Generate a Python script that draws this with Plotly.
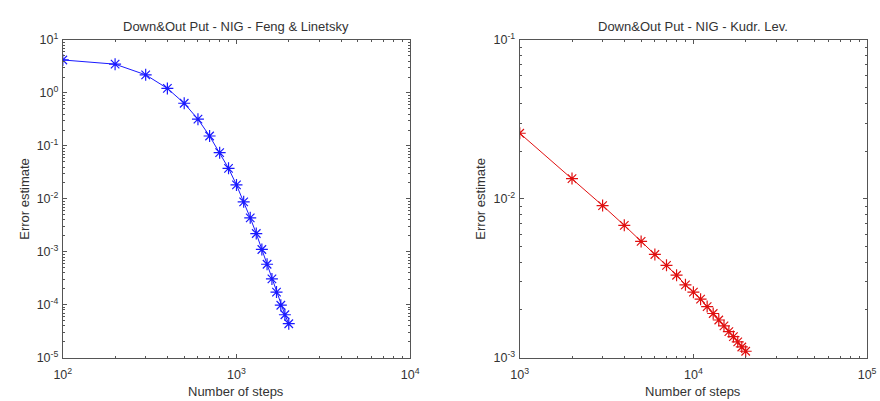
import plotly.graph_objects as go

# Feng & Linetsky convergence
steps_fl = [100, 200, 300, 400, 500, 600, 700, 800, 900, 1000,
            1100, 1200, 1300, 1400, 1500, 1600, 1700, 1800, 1900, 2000]
err_fl = [4.2, 3.5, 2.2, 1.22, 0.64, 0.32, 0.154, 0.0747, 0.0378, 0.0184,
          0.0088, 0.00439, 0.00222, 0.00111, 0.000584, 0.000309, 0.000174,
          9.84e-5, 6.5e-5, 4.4e-5]

# Kudryavtsev & Levendorskii convergence
steps_kl = [1000, 2000, 3000, 4000, 5000, 6000, 7000, 8000, 9000, 10000,
            11000, 12000, 13000, 14000, 15000, 16000, 17000, 18000, 19000, 20000]
err_kl = [0.0259, 0.01342, 0.00908, 0.00682, 0.0054, 0.00447, 0.00382,
          0.00331, 0.00288, 0.00259, 0.00234, 0.0021, 0.0019, 0.00173,
          0.00159, 0.00146, 0.00136, 0.00126, 0.00117, 0.0011]

titles = ["Down&Out Put - NIG - Feng & Linetsky", "Down&Out Put - NIG - Kudr. Lev."]
x_label = "Number of steps"
y_label = "Error estimate"

left_x_exp = [2, 3, 4]
left_y_exp = [-5, -4, -3, -2, -1, 0, 1]
right_x_exp = [3, 4, 5]
right_y_exp = [-3, -2, -1]

W, H = 880, 401
FONT = "Liberation Sans, Arial, sans-serif"
TXT = "#333333"
AXC = "#555555"

fig = go.Figure()
fig.add_trace(go.Scatter(x=steps_fl, y=err_fl, mode="lines+markers",
                         line=dict(color="#1a1aff", width=1),
                         marker=dict(symbol="asterisk-open", size=10,
                                     line=dict(color="#0000ff", width=1.2)),
                         xaxis="x", yaxis="y", showlegend=False))
fig.add_trace(go.Scatter(x=steps_kl, y=err_kl, mode="lines+markers",
                         line=dict(color="#e01010", width=1),
                         marker=dict(symbol="asterisk-open", size=10,
                                     line=dict(color="#e00000", width=1.2)),
                         xaxis="x2", yaxis="y2", showlegend=False))


def minor_vals(exps):
    return [m * 10 ** e for e in exps[:-1] for m in range(2, 10)]


def log_axis(exps, domain, anchor, standoff):
    return dict(
        type="log", domain=domain, anchor=anchor,
        range=[exps[0], exps[-1]],
        tickmode="array",
        tickvals=[10 ** e for e in exps],
        ticktext=["10<sup>%d</sup>" % e for e in exps],
        ticks="inside", ticklen=4, tickwidth=1, tickcolor=AXC,
        minor=dict(tickmode="array", tickvals=minor_vals(exps),
                   ticks="inside", ticklen=2, tickcolor=AXC, showgrid=False),
        showline=True, linecolor=AXC, linewidth=1, mirror="allticks",
        showgrid=False, zeroline=False,
        ticklabelstandoff=standoff,
        tickfont=dict(family=FONT, size=12.5, color=TXT),
    )


yd = [(H - 363.3) / H, (H - 32.3) / H]
fig.update_layout(
    width=W, height=H,
    margin=dict(l=0, r=0, t=0, b=0),
    paper_bgcolor="white", plot_bgcolor="white",
    xaxis=log_axis(left_x_exp, [55 / W, 410 / W], "y", 5),
    yaxis=log_axis(left_y_exp, yd, "x", 1),
    xaxis2=log_axis(right_x_exp, [522 / W, 877 / W], "y2", 5),
    yaxis2=log_axis(right_y_exp, yd, "x2", 1),
)

ann = []
for cx, t in [((55 + 410) / 2, titles[0]), ((522 + 877) / 2, titles[1])]:
    ann.append(dict(x=cx / W, y=(H - 18) / H, xref="paper", yref="paper",
                    text=t, showarrow=False, xanchor="center", yanchor="middle",
                    font=dict(family=FONT, size=13, color=TXT)))
    ann.append(dict(x=cx / W, y=(H - 389) / H, xref="paper", yref="paper",
                    text=x_label, showarrow=False, xanchor="center", yanchor="top",
                    font=dict(family=FONT, size=13, color=TXT)))
for cx in [15, 482]:
    ann.append(dict(x=cx / W, y=(H - 198) / H, xref="paper", yref="paper",
                    text=y_label, showarrow=False, textangle=-90,
                    xanchor="center", yanchor="middle",
                    font=dict(family=FONT, size=13, color=TXT)))
fig.update_layout(annotations=ann)

fig.write_html("out.html")
